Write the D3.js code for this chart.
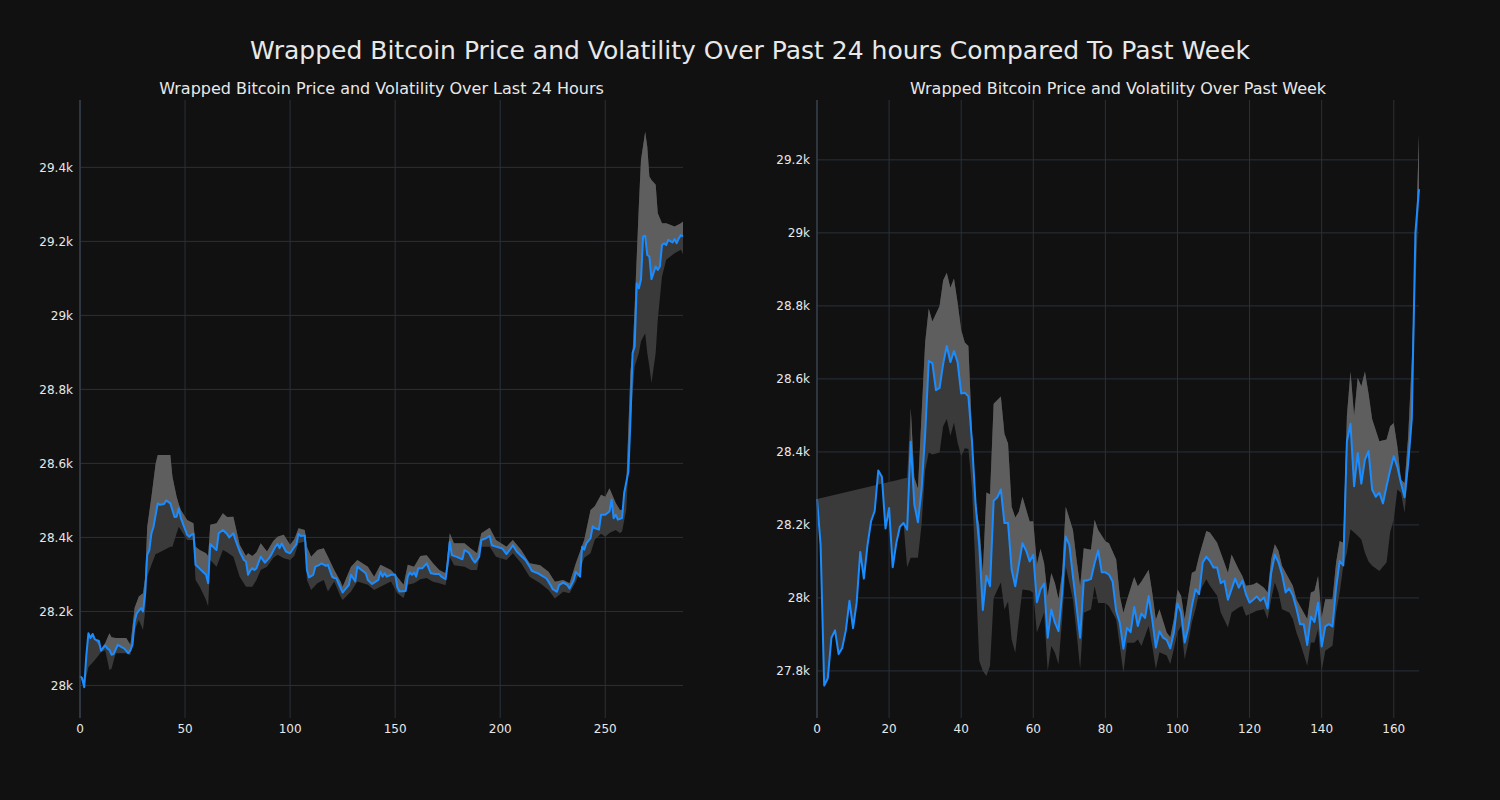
<!DOCTYPE html>
<html>
<head>
<meta charset="utf-8">
<script src="https://cdn.jsdelivr.net/npm/d3@7"></script>
<style>
html,body{margin:0;padding:0;background:#111111;}
svg{display:block;}
text{font-family:"DejaVu Sans",sans-serif;fill:#e8e8e8;}
</style>
</head>
<body>
<svg id="chart" width="1500" height="800"></svg>
<script>
// ---------- DATA ----------
const mainTitle = "Wrapped Bitcoin Price and Volatility Over Past 24 hours Compared To Past Week";
const dayTitle = "Wrapped Bitcoin Price and Volatility Over Last 24 Hours";
const weekTitle = "Wrapped Bitcoin Price and Volatility Over Past Week";

const dayXTicks = [0, 50, 100, 150, 200, 250];
const dayYTicks = [28000, 28200, 28400, 28600, 28800, 29000, 29200, 29400];
const weekXTicks = [0, 20, 40, 60, 80, 100, 120, 140, 160];
const weekYTicks = [27800, 28000, 28200, 28400, 28600, 28800, 29000, 29200];

// last 24h price (sample index, price)
const dayIdx = [0,1,2,3,4,5,6,7,8,9,10,12,13,14,15,16,18,20,21,23,24,25,26,27,29,30,31,32,33,34,35,37,38,40,41,43,45,46,47,48,51,52,53,54,55,56,58,60,61,62,64,65,66,68,70,71,73,74,76,78,79,80,81,82,83,84,86,88,90,91,93,94,95,96,98,100,101,103,104,105,107,108,109,111,112,114,115,117,118,120,121,122,123,125,126,128,129,131,132,134,136,137,139,140,142,143,144,145,146,148,150,151,152,155,156,157,158,159,160,161,163,165,166,167,169,171,172,174,175,176,177,179,182,183,185,187,188,190,191,193,195,196,198,201,203,205,206,208,210,212,214,215,217,218,220,222,224,225,227,228,230,232,233,235,236,238,239,240,241,243,244,245,247,248,250,252,253,254,255,256,258,259,261,262,263,264,265,266,267,268,269,270,271,272,274,275,276,277,278,279,280,282,283,284,285,286,287];
const dayPrice = [28025,28020,27995,28080,28141,28128,28139,28125,28122,28120,28094,28108,28100,28096,28083,28085,28110,28103,28100,28087,28095,28110,28173,28195,28209,28200,28249,28353,28366,28411,28429,28492,28488,28490,28500,28492,28455,28456,28479,28452,28407,28402,28407,28410,28326,28321,28310,28299,28276,28382,28371,28366,28411,28420,28409,28400,28411,28393,28362,28339,28335,28299,28310,28317,28312,28317,28348,28332,28344,28353,28375,28382,28371,28384,28362,28357,28366,28382,28410,28404,28405,28312,28292,28299,28321,28326,28330,28323,28326,28294,28290,28290,28276,28251,28258,28272,28299,28281,28321,28312,28303,28285,28274,28278,28285,28308,28294,28303,28294,28299,28299,28266,28254,28255,28294,28305,28299,28305,28294,28317,28317,28330,28316,28303,28301,28301,28294,28287,28330,28388,28352,28348,28341,28366,28359,28339,28332,28348,28393,28397,28404,28379,28375,28370,28355,28370,28379,28361,28350,28339,28321,28310,28305,28303,28296,28289,28271,28260,28253,28271,28278,28271,28262,28285,28307,28294,28375,28367,28384,28398,28430,28425,28421,28461,28461,28470,28502,28452,28461,28448,28452,28520,28578,28718,28898,28916,29087,29073,29096,29213,29215,29163,29159,29098,29132,29123,29132,29190,29195,29190,29204,29197,29206,29195,29208,29217,29213];

// last 24h volatility band (sample index, upper, lower)
const dayBandIdx = [0,2,4,7,10,12,14,15,17,20,22,24,26,28,30,31,32,34,36,37,43,44,46,47,48,51,54,55,57,60,61,62,65,68,70,73,76,79,80,82,84,86,89,92,94,97,100,102,104,107,108,110,113,116,118,121,124,125,129,132,137,140,143,148,151,154,156,159,162,165,168,171,174,176,178,183,186,189,191,195,198,203,206,210,214,219,223,226,230,233,236,240,243,245,248,250,252,255,257,258,260,262,263,264,266,267,269,270,271,272,274,275,277,279,283,286,287];
const dayBandHi = [28025,27998,28141,28125,28098,28115,28141,28130,28128,28128,28128,28110,28210,28240,28249,28290,28429,28510,28600,28623,28623,28564,28510,28490,28474,28447,28438,28375,28366,28357,28350,28434,28438,28465,28455,28456,28380,28350,28357,28350,28360,28384,28362,28390,28402,28407,28380,28395,28425,28420,28375,28348,28366,28371,28348,28312,28281,28267,28321,28339,28321,28294,28326,28312,28294,28272,28326,28321,28350,28352,28330,28312,28303,28411,28384,28384,28370,28357,28411,28426,28393,28375,28393,28366,28330,28325,28307,28280,28285,28276,28330,28394,28474,28484,28515,28510,28533,28493,28474,28475,28540,28850,28898,29024,29298,29420,29496,29456,29375,29366,29353,29276,29249,29249,29240,29249,29254];
const dayBandLo = [28025,27997,28050,28068,28090,28095,28042,28045,28087,28087,28087,28082,28150,28177,28150,28200,28294,28326,28355,28357,28375,28375,28411,28429,28420,28393,28393,28285,28267,28231,28213,28339,28321,28366,28360,28348,28294,28267,28267,28267,28285,28312,28321,28345,28353,28344,28339,28350,28384,28389,28285,28258,28276,28285,28254,28281,28240,28231,28254,28281,28272,28258,28267,28281,28249,28236,28272,28276,28287,28290,28280,28276,28271,28348,28325,28321,28312,28312,28375,28375,28348,28339,28357,28330,28294,28276,28258,28235,28253,28249,28280,28345,28357,28394,28410,28402,28412,28420,28411,28416,28475,28700,28790,28862,28898,28930,28952,28898,28862,28817,28898,28988,29105,29150,29168,29177,29165];

// past week price (hourly)
const weekIdx = d3.range(0, 168);
const weekPrice = [28271,28145,27760,27780,27891,27911,27846,27863,27911,27992,27917,27987,28126,28053,28144,28210,28238,28349,28332,28190,28246,28084,28150,28195,28205,28187,28428,28256,28207,28296,28448,28649,28643,28569,28575,28641,28690,28646,28676,28646,28560,28562,28552,28428,28256,28145,27967,28061,28032,28266,28275,28297,28205,28205,28077,28032,28091,28150,28130,28100,28118,27988,28023,28039,27891,27968,27932,27909,28014,28168,28145,28059,27977,27891,28048,28048,28052,28095,28130,28070,28070,28064,28045,27964,27932,27861,27918,27906,27975,27923,27957,27945,28005,27941,27864,27909,27891,27885,27862,27905,27985,27960,27878,27919,27978,28024,28010,28097,28113,28101,28083,28083,28040,28047,27995,28024,28053,28028,28047,28010,27987,27995,28004,27992,28001,27971,28069,28118,28098,28065,28015,28026,28007,27971,27928,27928,27871,27949,27934,27987,27867,27922,27928,27922,28028,28101,28089,28429,28477,28306,28397,28313,28379,28402,28297,28277,28288,28259,28306,28350,28388,28359,28315,28276,28370,28490,29000,29120];

// past week volatility band, upper edge
const weekHiIdx = [0,25,26,27,28,29,30,31,32,34,35,36,37,38,39,40,41,42,43,44,45,46,47,48,49,51,52,53,54,55,56,57,59,60,61,62,63,64,65,66,67,68,69,71,72,73,74,76,77,78,80,81,83,84,85,86,88,89,90,92,93,94,95,97,98,99,100,101,102,103,104,105,106,108,109,111,112,114,115,117,118,119,121,122,124,125,126,127,128,129,131,132,133,134,136,137,138,139,140,141,143,144,145,146,147,148,149,150,151,152,153,154,156,158,159,160,161,162,163,164,165,166,167];
const weekHi = [28271,28329,28520,28330,28300,28500,28700,28793,28757,28800,28870,28891,28850,28875,28809,28734,28700,28690,28450,28252,28200,28070,28289,28284,28532,28552,28450,28423,28250,28220,28236,28277,28209,28210,28091,28135,28095,28005,28068,28041,27997,28068,28250,28186,28105,28032,28136,28132,28214,28186,28155,28150,28105,28005,27959,27995,28057,28032,28045,28077,28014,27941,27969,27905,27892,27942,28024,28006,27942,28006,28069,28074,28115,28183,28179,28151,28124,28069,28119,28078,28060,28033,28037,28042,28028,28015,28106,28147,28129,28088,28051,28033,27996,27978,27942,28015,28019,28060,27946,27996,27996,28097,28156,28151,28500,28620,28500,28603,28580,28620,28560,28490,28429,28434,28470,28479,28415,28324,28315,28443,28650,28950,29270];

// past week volatility band, lower edge
const weekLoIdx = [0,1,2,3,4,5,6,7,8,9,10,11,12,13,14,15,16,17,18,19,20,21,22,23,24,25,26,27,28,29,30,31,32,34,35,36,37,38,39,40,41,42,43,44,45,46,47,48,49,51,52,53,54,55,56,57,59,60,61,62,63,64,65,66,67,68,69,71,72,73,74,76,77,78,80,81,83,84,85,86,88,89,90,92,93,94,95,97,98,99,100,101,102,103,104,105,106,108,109,111,112,114,115,117,118,119,121,122,124,125,126,127,128,129,131,132,133,134,136,137,138,139,140,141,143,144,145,146,147,148,149,150,151,152,153,154,156,158,159,160,161,162,163,164,165,166,167];
const weekLo = [28271,28145,27760,27780,27891,27911,27846,27863,27911,27992,27917,27987,28126,28053,28144,28210,28238,28349,28332,28190,28246,28084,28150,28195,28205,28084,28110,28110,28110,28200,28350,28398,28393,28398,28470,28490,28444,28480,28426,28389,28410,28408,28300,28070,27828,27800,27786,27814,28000,28042,27968,27990,27886,27850,27941,28023,28020,28014,27905,27932,27959,27800,27868,27850,27818,27941,28086,27995,27905,27805,27959,27968,28032,27986,27986,27977,27941,27868,27795,27877,27877,27886,27868,27923,27868,27805,27851,27842,27819,27860,27905,27924,27832,27878,27933,27969,28015,28051,28033,28006,27960,27919,27960,27974,27978,27951,27960,27965,27969,27942,27996,28042,28015,27969,27960,27942,27905,27878,27814,27878,27878,27914,27801,27855,27869,27960,28015,28088,28124,28188,28179,28170,28160,28124,28100,28088,28074,28097,28180,28215,28297,28288,28233,28343,28461,28850,29100];

// ---------- DRAW ----------
const svg = d3.select("#chart");
const C = {
  line: "#1a8cff",
  dark: "#3a3a3a",
  light: "#5e5e5e",
  grid: "#29313b",
  spine: "#3b4654",
  text: "#e8e8e8"
};

svg.append("text").attr("x", 750).attr("y", 59).attr("text-anchor", "middle")
  .style("font-size", "25px").text(mainTitle);

function kfmt(v) {
  const k = v / 1000;
  return (Math.round(k * 10) / 10).toString() + "k";
}

function panel(opt) {
  const g = svg.append("g");
  const x = d3.scaleLinear().domain(opt.xDomain).range([opt.left, opt.right]);
  const y = d3.scaleLinear().domain(opt.yDomain).range([opt.bottom, opt.top]);

  // grid
  g.selectAll(".vg").data(opt.xTicks).join("line")
    .attr("x1", d => x(d)).attr("x2", d => x(d))
    .attr("y1", opt.top).attr("y2", opt.bottom)
    .attr("stroke", C.grid).attr("stroke-width", 1);
  g.selectAll(".hg").data(opt.yTicks).join("line")
    .attr("x1", opt.left).attr("x2", opt.right)
    .attr("y1", d => y(d)).attr("y2", d => y(d))
    .attr("stroke", C.grid).attr("stroke-width", 1);

  const lineGen = d3.line().x(d => x(d[0])).y(d => y(d[1]));

  // outer band (dark)
  const hiPts = opt.hiIdx.map((d, i) => [d, opt.hi[i]]);
  const loPts = opt.loIdx.map((d, i) => [d, opt.lo[i]]);
  const outer = hiPts.concat(loPts.slice().reverse());
  g.append("path").attr("d", lineGen(outer) + "Z").attr("fill", C.dark).attr("stroke", "none");

  // upper half of band (light): between price and upper edge
  const pricePts = opt.idx.map((d, i) => [d, opt.price[i]]);
  const hiL = hiPts.filter(p => p[0] >= opt.lightFrom);
  const prL = pricePts.filter(p => p[0] >= opt.lightFrom);
  const inner = hiL.concat(prL.slice().reverse());
  g.append("path").attr("d", lineGen(inner) + "Z").attr("fill", C.light).attr("stroke", "none");

  // price line
  g.append("path").attr("d", lineGen(pricePts))
    .attr("fill", "none").attr("stroke", C.line).attr("stroke-width", 2)
    .attr("stroke-linejoin", "round");

  // left spine
  g.append("line").attr("x1", opt.left).attr("x2", opt.left)
    .attr("y1", opt.top).attr("y2", opt.bottom)
    .attr("stroke", C.spine).attr("stroke-width", 1.2);

  // tick labels
  g.selectAll(".xl").data(opt.xTicks).join("text")
    .attr("x", d => x(d)).attr("y", opt.bottom + 15)
    .attr("text-anchor", "middle").style("font-size", "12px").text(d => d);
  g.selectAll(".yl").data(opt.yTicks).join("text")
    .attr("x", opt.left - 7).attr("y", d => y(d) + 4.5)
    .attr("text-anchor", "end").style("font-size", "12px").text(d => kfmt(d));

  // subtitle
  g.append("text").attr("x", (opt.left + opt.right) / 2).attr("y", 94)
    .attr("text-anchor", "middle").style("font-size", "16px").text(opt.title);
}

panel({
  left: 80, right: 683, top: 100, bottom: 718,
  xDomain: [0, 287], yDomain: [27912, 29582],
  xTicks: dayXTicks, yTicks: dayYTicks,
  idx: dayIdx, price: dayPrice,
  hiIdx: dayBandIdx, hi: dayBandHi, loIdx: dayBandIdx, lo: dayBandLo,
  lightFrom: 0, title: dayTitle
});

panel({
  left: 817, right: 1419, top: 100, bottom: 718,
  xDomain: [0, 167], yDomain: [27671, 29364],
  xTicks: weekXTicks, yTicks: weekYTicks,
  idx: weekIdx, price: weekPrice,
  hiIdx: weekHiIdx, hi: weekHi, loIdx: weekLoIdx, lo: weekLo,
  lightFrom: 26, title: weekTitle
});
</script>
</body>
</html>
